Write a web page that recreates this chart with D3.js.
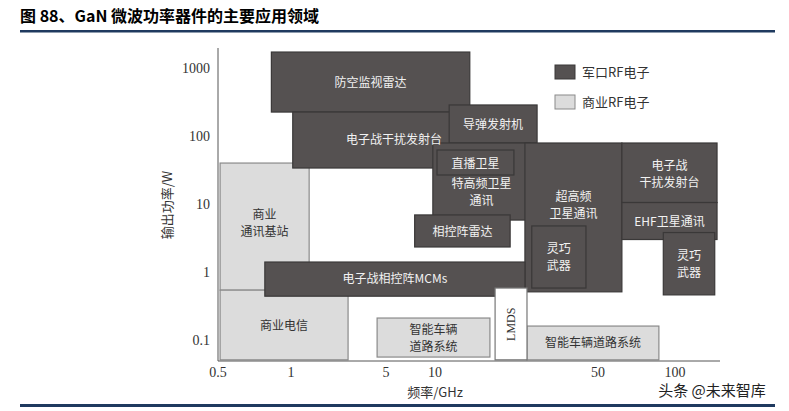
<!DOCTYPE html>
<html><head><meta charset="utf-8">
<script src="https://cdn.jsdelivr.net/npm/d3@7"></script>
<style>body{margin:0;background:#fff}</style>
</head><body>
<svg id="c" width="789" height="411"></svg>
<script>
// tick values
const xTicks = [0.5, 1, 5, 10, 50, 100];
const xTickLabels = ["0.5", "1", "5", "10", "50", "100"];
const yTicks = [1000, 100, 10, 1, 0.1];
const yTickLabels = ["1000", "100", "10", "1", "0.1"];
// boxes in drawing order (frequency GHz, power W)
const names = ["商业\n通讯基站","商业电信","智能车辆\n道路系统","智能车辆道路系统","防空监视雷达","电子战干扰发射台","导弹发射机","特高频卫星\n通讯","直播卫星","相控阵雷达","超高频\n卫星通讯","灵巧\n武器","电子战\n干扰发射台","EHF卫星通讯","灵巧\n武器","电子战相控阵MCMs","LMDS"];
const types = ["com","com","com","com","mil","mil","mil","mil","mil","mil","mil","mil","mil","mil","mil","mil","white"];
const fLow  = [0.51, 0.51, 4.3, 24.8, 0.83, 1.03, 11.5, 9.7, 10.2, 7.5, 24.3, 26, 62, 62, 90, 0.78, 18.1];
const fHigh = [1.36, 2.63, 17.2, 86.5, 14.1, 18.1, 27.4, 25.6, 21.8, 21, 62, 44.4, 146, 146, 143, 24.3, 24.8];
const pLow  = [0.54, 0.051, 0.056, 0.051, 225, 33.8, 78.9, 5.8, 26.7, 2.33, 0.51, 0.58, 10.5, 3.0, 0.46, 0.44, 0.051];
const pHigh = [40, 0.54, 0.21, 0.16, 1718, 225, 286, 78.9, 62.2, 6.9, 78.9, 4.75, 78.9, 10.5, 3.8, 1.40, 0.58];
// power at the centre of each label (visible part of the box)
const pLabel = [5.2, 0.165, 0.108, 0.092, 620, 88, 150, 15, 40, 4.0, 9.5, 1.65, 28, 5.6, 1.3, 0.79, 0.17];
const legendLabels = ["军口RF电子", "商业RF电子"];

const svg = d3.select("#c");
const x = d3.scaleLog().domain(xTicks).range([218, 291, 386, 435, 598, 675]);
const y = d3.scaleLog().domain([0.049, 1970]).range([361, 48]);
const fill = {mil:"#555151", com:"#dcdcdc", white:"#ffffff"};
const stroke = {mil:"#3a3838", com:"#8a8a8a", white:"#777"};
const serif = "'Liberation Serif','Noto Sans CJK SC',serif";
const cjk = "'Noto Sans CJK SC','Liberation Serif',sans-serif";

// title
svg.append("text").attr("x",20).attr("y",22).attr("font-family",cjk).attr("font-weight","bold")
  .attr("font-size",16).attr("fill","#000").text("图 88、GaN 微波功率器件的主要应用领域");
svg.append("rect").attr("x",20).attr("y",30).attr("width",755).attr("height",2.5).attr("fill","#1f3a5f");
svg.append("rect").attr("x",20).attr("y",404).attr("width",755).attr("height",3).attr("fill","#1f3a5f");

// boxes
names.forEach((n,i)=>{
  const x0=x(fLow[i]), x1=x(fHigh[i]), y0=y(pHigh[i]), y1=y(pLow[i]);
  const t=types[i];
  svg.append("rect").attr("x",x0).attr("y",y0).attr("width",x1-x0).attr("height",y1-y0)
    .attr("fill",fill[t]).attr("stroke",stroke[t]).attr("stroke-width",1.2);
});
names.forEach((n,i)=>{
  const t=types[i];
  const cx=(x(fLow[i])+x(fHigh[i]))/2, cy=y(pLabel[i]);
  const col = t==="mil" ? "#f2f2f2" : "#333";
  if (t==="white") {
    svg.append("text").attr("transform",`translate(${cx+4},${cy})rotate(-90)`).attr("text-anchor","middle")
      .attr("font-family",serif).attr("font-size",12).attr("fill","#333").text(n);
    return;
  }
  const lines=n.split("\n");
  lines.forEach((l,k)=>{
    svg.append("text").attr("x",cx).attr("y",cy+(k-(lines.length-1)/2)*17+4.5).attr("text-anchor","middle")
      .attr("font-family",cjk).attr("font-size",12).attr("fill",col).text(l);
  });
});

// axes
svg.append("line").attr("x1",218).attr("x2",218).attr("y1",48).attr("y2",361).attr("stroke","#555");
svg.append("line").attr("x1",218).attr("x2",720).attr("y1",361).attr("y2",361).attr("stroke","#555");
xTicks.forEach((v,i)=>svg.append("text").attr("x",x(v)).attr("y",377).attr("text-anchor","middle")
  .attr("font-family",serif).attr("font-size",14).attr("fill","#333").text(xTickLabels[i]));
yTicks.forEach((v,i)=>svg.append("text").attr("x",210).attr("y",y(v)+5).attr("text-anchor","end")
  .attr("font-family",serif).attr("font-size",14).attr("fill","#333").text(yTickLabels[i]));
svg.append("text").attr("x",435).attr("y",397).attr("text-anchor","middle").attr("font-family",cjk)
  .attr("font-size",13).attr("fill","#333").text("频率/GHz");
svg.append("text").attr("transform","translate(172,205)rotate(-90)").attr("text-anchor","middle")
  .attr("font-family",cjk).attr("font-size",13).attr("fill","#333").text("输出功率/W");

// legend
legendLabels.forEach((l,i)=>{
  const ly=65+i*30;
  svg.append("rect").attr("x",555).attr("y",ly).attr("width",20).attr("height",14)
    .attr("fill",i?fill.com:fill.mil).attr("stroke",i?stroke.com:stroke.mil);
  svg.append("text").attr("x",582).attr("y",ly+12).attr("font-family",cjk).attr("font-size",13)
    .attr("fill","#333").text(l);
});
// watermark
svg.append("text").attr("x",712).attr("y",396).attr("text-anchor","middle").attr("font-family",cjk)
  .attr("font-size",15).attr("fill","#222").text("头条 @未来智库");
</script>
</body></html>
